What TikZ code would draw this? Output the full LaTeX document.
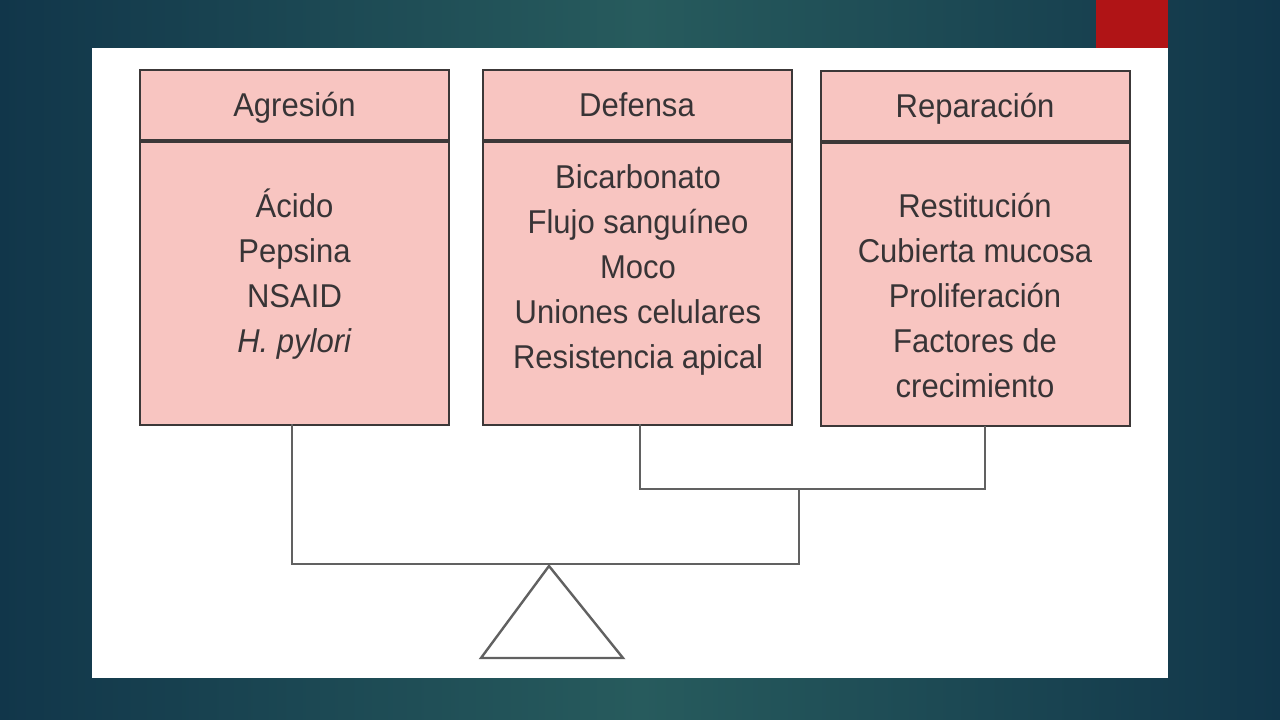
\documentclass[tikz,border=0pt]{standalone}
\usepackage{fontspec}
\setmainfont{Liberation Sans}[FakeStretch=0.94]
\usepackage{tikz}
\usetikzlibrary{calc}
\definecolor{bgdark}{HTML}{11364A}
\definecolor{bglight}{HTML}{275B5D}
\definecolor{slidered}{HTML}{B01416}
\definecolor{boxpink}{HTML}{F8C5C1}
\definecolor{boxline}{HTML}{3C3838}
\definecolor{inktext}{HTML}{383436}
\tikzset{
  boxhead/.style={draw=boxline,line width=2pt,fill=boxpink,minimum width=309pt,minimum height=70pt,inner sep=0pt,text height=29pt,text depth=6pt,font=\fontsize{33}{36}\selectfont,text=inktext},
  boxbody/.style={draw=boxline,line width=2pt,fill=boxpink,minimum width=309pt,minimum height=283pt,inner sep=0pt},
  boxtext/.style={align=center,inner sep=0pt,font=\fontsize{33}{45}\selectfont,text=inktext},
  link/.style={draw=black!62,line width=2.4pt}
}
\begin{document}
\begin{tikzpicture}[x=1pt,y=-1pt]
    \useasboundingbox (0,0) rectangle (1280,720);
    \shade[left color=bgdark,right color=bgdark,middle color=bglight] (0,0) rectangle (1280,720);
    \fill[slidered] (1096,0) rectangle (1168,48);
    \fill[white] (92,48) rectangle (1168,678);
    % boxes
    \node[boxhead] (agr) at (294.5,105) {Agresión};
    \node[boxbody,anchor=north] (agrb) at (agr.south) {};
    \node[boxhead] (def) at (637,105) {Defensa};
    \node[boxbody,anchor=north] (defb) at (def.south) {};
    \node[boxhead] (rep) at (975,106) {Reparación};
    \node[boxbody,anchor=north] (repb) at (rep.south) {};
    \node[boxtext] (agrt) at (294.5,274) {Ácido\\Pepsina\\NSAID\\\textit{H. pylori}};
    \node[boxtext] (deft) at (638,270) {Bicarbonato\\Flujo sanguíneo\\Moco\\Uniones celulares\\Resistencia apical};
    \node[boxtext] (rept) at (975,296) {Restitución\\Cubierta mucosa\\Proliferación\\Factores de\\crecimiento};
    % balance
    \coordinate (aleg) at (292,424);
    \coordinate (dleg) at (640,424);
    \coordinate (rleg) at (985,426);
    \coordinate (fork) at (799,489);
    \coordinate (beamr) at (799,564);
    \coordinate (apex) at (549,566);
    \draw[link] (dleg) |- (fork) -| (rleg);
    \draw[link] (aleg) |- (beamr) -- (fork);
    \draw[link,line join=miter] (apex) -- (481,658) -- (623,658) -- cycle;
\end{tikzpicture}
\end{document}
